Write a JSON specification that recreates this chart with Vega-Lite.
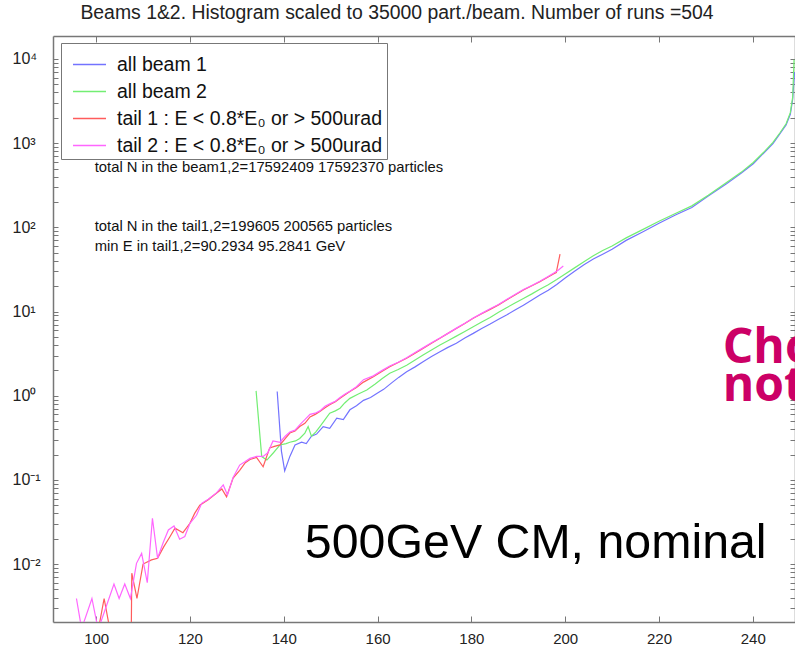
{
  "$schema": "https://vega.github.io/schema/vega-lite/v6.json",
  "width": 742,
  "height": 586,
  "autosize": "none",
  "padding": {"left": 53, "top": 36, "right": 0, "bottom": 31},
  "background": "white",
  "title": {"text": "Beams 1&2. Histogram scaled to 35000 part./beam. Number of runs =504", "font": "Liberation Sans", "fontSize": 19.4, "fontWeight": "normal", "color": "#222", "anchor": "middle", "dx": -27, "offset": 12},
  "config": {"view": {"stroke": null}},
  "datasets": {
    "beams": [
      {"s":"b1","E":138.6,"n":1.12},{"s":"b1","E":139.5,"n":0.22},{"s":"b1","E":140.2,"n":0.128},{"s":"b1","E":141.3,"n":0.19},{"s":"b1","E":142.4,"n":0.26},{"s":"b1","E":143.8,"n":0.28},{"s":"b1","E":144.8,"n":0.27},{"s":"b1","E":145.9,"n":0.33},{"s":"b1","E":147.0,"n":0.35},{"s":"b1","E":148.4,"n":0.43},{"s":"b1","E":149.8,"n":0.41},{"s":"b1","E":151.3,"n":0.54},{"s":"b1","E":152.7,"n":0.52},{"s":"b1","E":154.1,"n":0.68},{"s":"b1","E":155.5,"n":0.76},{"s":"b1","E":157.0,"n":0.88},{"s":"b1","E":158.5,"n":0.95},{"s":"b1","E":160.0,"n":1.08},{"s":"b1","E":161.3,"n":1.19},{"s":"b1","E":163.0,"n":1.42},{"s":"b1","E":164.5,"n":1.65},{"s":"b1","E":166.2,"n":1.93},{"s":"b1","E":168.0,"n":2.2},{"s":"b1","E":169.7,"n":2.53},{"s":"b1","E":171.5,"n":2.92},{"s":"b1","E":173.3,"n":3.33},{"s":"b1","E":175.0,"n":3.75},{"s":"b1","E":176.8,"n":4.2},{"s":"b1","E":178.6,"n":4.85},{"s":"b1","E":180.4,"n":5.5},{"s":"b1","E":182.2,"n":6.3},{"s":"b1","E":184.0,"n":7.1},{"s":"b1","E":185.8,"n":8.1},{"s":"b1","E":187.5,"n":9.1},{"s":"b1","E":189.3,"n":10.4},{"s":"b1","E":191.1,"n":11.9},{"s":"b1","E":192.9,"n":13.7},{"s":"b1","E":194.6,"n":15.7},{"s":"b1","E":196.4,"n":17.9},{"s":"b1","E":198.2,"n":21},{"s":"b1","E":200.0,"n":25},{"s":"b1","E":202.0,"n":30},{"s":"b1","E":204.0,"n":36},{"s":"b1","E":206.0,"n":42},{"s":"b1","E":208.0,"n":48},{"s":"b1","E":210.0,"n":55},{"s":"b1","E":213.0,"n":70},{"s":"b1","E":216.5,"n":88},{"s":"b1","E":220.0,"n":112},{"s":"b1","E":223.5,"n":140},{"s":"b1","E":227.0,"n":172},{"s":"b1","E":230.5,"n":235},{"s":"b1","E":234.4,"n":330},{"s":"b1","E":237.5,"n":440},{"s":"b1","E":240.1,"n":570},{"s":"b1","E":242.5,"n":780},{"s":"b1","E":244.3,"n":990},{"s":"b1","E":245.8,"n":1300},{"s":"b1","E":247.1,"n":1650},{"s":"b1","E":248.0,"n":2200},{"s":"b1","E":248.5,"n":3300},{"s":"b1","E":248.9,"n":7000},
      {"s":"b2","E":134.1,"n":1.14},{"s":"b2","E":135.3,"n":0.189},{"s":"b2","E":136.4,"n":0.172},{"s":"b2","E":137.8,"n":0.21},{"s":"b2","E":139.2,"n":0.26},{"s":"b2","E":140.5,"n":0.27},{"s":"b2","E":141.3,"n":0.28},{"s":"b2","E":142.5,"n":0.29},{"s":"b2","E":143.4,"n":0.31},{"s":"b2","E":144.5,"n":0.36},{"s":"b2","E":145.2,"n":0.43},{"s":"b2","E":145.9,"n":0.33},{"s":"b2","E":146.8,"n":0.37},{"s":"b2","E":147.7,"n":0.43},{"s":"b2","E":148.8,"n":0.52},{"s":"b2","E":149.8,"n":0.62},{"s":"b2","E":151.0,"n":0.66},{"s":"b2","E":152.0,"n":0.71},{"s":"b2","E":153.0,"n":0.82},{"s":"b2","E":154.1,"n":0.93},{"s":"b2","E":155.9,"n":1.05},{"s":"b2","E":157.7,"n":1.17},{"s":"b2","E":159.5,"n":1.38},{"s":"b2","E":161.0,"n":1.6},{"s":"b2","E":162.6,"n":1.85},{"s":"b2","E":164.4,"n":2.05},{"s":"b2","E":166.2,"n":2.3},{"s":"b2","E":168.0,"n":2.65},{"s":"b2","E":169.7,"n":3.04},{"s":"b2","E":171.5,"n":3.5},{"s":"b2","E":173.3,"n":4.0},{"s":"b2","E":175.0,"n":4.5},{"s":"b2","E":176.8,"n":5.1},{"s":"b2","E":178.6,"n":5.8},{"s":"b2","E":180.4,"n":6.6},{"s":"b2","E":182.2,"n":7.5},{"s":"b2","E":184.0,"n":8.5},{"s":"b2","E":185.8,"n":9.8},{"s":"b2","E":187.5,"n":11.1},{"s":"b2","E":189.3,"n":12.6},{"s":"b2","E":191.1,"n":14.3},{"s":"b2","E":192.9,"n":16.2},{"s":"b2","E":194.6,"n":18.4},{"s":"b2","E":196.4,"n":20.8},{"s":"b2","E":198.2,"n":24},{"s":"b2","E":200.0,"n":28},{"s":"b2","E":202.0,"n":33},{"s":"b2","E":204.0,"n":39},{"s":"b2","E":206.0,"n":46},{"s":"b2","E":208.0,"n":53},{"s":"b2","E":210.0,"n":60},{"s":"b2","E":213.0,"n":75},{"s":"b2","E":216.5,"n":94},{"s":"b2","E":220.0,"n":118},{"s":"b2","E":223.5,"n":146},{"s":"b2","E":227.0,"n":180},{"s":"b2","E":230.5,"n":240},{"s":"b2","E":234.4,"n":340},{"s":"b2","E":237.5,"n":450},{"s":"b2","E":240.1,"n":590},{"s":"b2","E":242.5,"n":800},{"s":"b2","E":244.3,"n":1020},{"s":"b2","E":245.8,"n":1330},{"s":"b2","E":247.1,"n":1700},{"s":"b2","E":248.0,"n":2300},{"s":"b2","E":248.5,"n":3500},{"s":"b2","E":248.8,"n":9800},
      {"s":"t1","E":100.5,"n":0.0017},{"s":"t1","E":101.7,"n":0.0039},{"s":"t1","E":102.9,"n":0.0017},{"s":"t1","E":103.5,"n":0.0001},{"s":"t1","E":107.3,"n":0.0001},{"s":"t1","E":107.6,"n":0.0078},{"s":"t1","E":108.7,"n":0.0039},{"s":"t1","E":110.0,"n":0.0100},{"s":"t1","E":111.8,"n":0.0112},{"s":"t1","E":113.1,"n":0.0117},{"s":"t1","E":114.4,"n":0.016},{"s":"t1","E":115.7,"n":0.021},{"s":"t1","E":116.8,"n":0.0267},{"s":"t1","E":118.5,"n":0.0236},{"s":"t1","E":120.0,"n":0.0305},{"s":"t1","E":121.0,"n":0.040},{"s":"t1","E":122.1,"n":0.05},{"s":"t1","E":123.9,"n":0.058},{"s":"t1","E":125.7,"n":0.070},{"s":"t1","E":126.8,"n":0.078},{"s":"t1","E":127.8,"n":0.063},{"s":"t1","E":129.2,"n":0.105},{"s":"t1","E":130.6,"n":0.13},{"s":"t1","E":131.8,"n":0.16},{"s":"t1","E":132.8,"n":0.175},{"s":"t1","E":134.2,"n":0.185},{"s":"t1","E":135.6,"n":0.143},{"s":"t1","E":137.0,"n":0.24},{"s":"t1","E":138.0,"n":0.25},{"s":"t1","E":139.2,"n":0.26},{"s":"t1","E":140.3,"n":0.31},{"s":"t1","E":141.3,"n":0.36},{"s":"t1","E":142.4,"n":0.38},{"s":"t1","E":143.4,"n":0.43},{"s":"t1","E":144.5,"n":0.47},{"s":"t1","E":145.6,"n":0.56},{"s":"t1","E":146.7,"n":0.6},{"s":"t1","E":147.7,"n":0.65},{"s":"t1","E":148.8,"n":0.72},{"s":"t1","E":149.8,"n":0.78},{"s":"t1","E":151.0,"n":0.85},{"s":"t1","E":152.0,"n":0.93},{"s":"t1","E":153.0,"n":1.02},{"s":"t1","E":154.1,"n":1.12},{"s":"t1","E":155.5,"n":1.25},{"s":"t1","E":157.0,"n":1.45},{"s":"t1","E":159.1,"n":1.68},{"s":"t1","E":161.0,"n":1.95},{"s":"t1","E":162.6,"n":2.21},{"s":"t1","E":164.4,"n":2.48},{"s":"t1","E":166.2,"n":2.78},{"s":"t1","E":168.0,"n":3.2},{"s":"t1","E":169.7,"n":3.65},{"s":"t1","E":171.5,"n":4.2},{"s":"t1","E":173.3,"n":4.8},{"s":"t1","E":175.0,"n":5.5},{"s":"t1","E":176.8,"n":6.3},{"s":"t1","E":178.6,"n":7.2},{"s":"t1","E":180.4,"n":8.3},{"s":"t1","E":182.2,"n":9.4},{"s":"t1","E":184.0,"n":10.6},{"s":"t1","E":185.8,"n":12.0},{"s":"t1","E":187.5,"n":13.7},{"s":"t1","E":189.3,"n":15.7},{"s":"t1","E":191.1,"n":18.0},{"s":"t1","E":192.9,"n":20.2},{"s":"t1","E":194.6,"n":22.6},{"s":"t1","E":196.0,"n":25},{"s":"t1","E":197.5,"n":27.9},{"s":"t1","E":198.1,"n":29},{"s":"t1","E":198.9,"n":48},
      {"s":"t2","E":95.8,"n":0.0039},{"s":"t2","E":96.9,"n":0.0017},{"s":"t2","E":99.1,"n":0.0039},{"s":"t2","E":100.4,"n":0.0017},{"s":"t2","E":100.8,"n":0.0019},{"s":"t2","E":103.8,"n":0.0058},{"s":"t2","E":104.9,"n":0.0039},{"s":"t2","E":106.1,"n":0.0058},{"s":"t2","E":107.3,"n":0.0039},{"s":"t2","E":108.6,"n":0.0102},{"s":"t2","E":109.7,"n":0.0134},{"s":"t2","E":110.9,"n":0.0060},{"s":"t2","E":112.0,"n":0.035},{"s":"t2","E":113.1,"n":0.0117},{"s":"t2","E":114.3,"n":0.018},{"s":"t2","E":115.4,"n":0.0254},{"s":"t2","E":116.6,"n":0.0283},{"s":"t2","E":117.8,"n":0.0197},{"s":"t2","E":118.9,"n":0.0212},{"s":"t2","E":120.0,"n":0.0305},{"s":"t2","E":121.4,"n":0.038},{"s":"t2","E":122.5,"n":0.0527},{"s":"t2","E":123.9,"n":0.059},{"s":"t2","E":125.7,"n":0.0705},{"s":"t2","E":127.1,"n":0.087},{"s":"t2","E":128.0,"n":0.066},{"s":"t2","E":129.2,"n":0.107},{"s":"t2","E":130.6,"n":0.15},{"s":"t2","E":131.8,"n":0.165},{"s":"t2","E":132.8,"n":0.18},{"s":"t2","E":134.2,"n":0.19},{"s":"t2","E":135.6,"n":0.19},{"s":"t2","E":136.6,"n":0.21},{"s":"t2","E":137.7,"n":0.29},{"s":"t2","E":139.2,"n":0.28},{"s":"t2","E":140.3,"n":0.33},{"s":"t2","E":141.3,"n":0.37},{"s":"t2","E":142.4,"n":0.39},{"s":"t2","E":143.4,"n":0.45},{"s":"t2","E":144.5,"n":0.52},{"s":"t2","E":145.6,"n":0.6},{"s":"t2","E":146.7,"n":0.62},{"s":"t2","E":147.7,"n":0.66},{"s":"t2","E":148.8,"n":0.75},{"s":"t2","E":149.8,"n":0.8},{"s":"t2","E":151.0,"n":0.86},{"s":"t2","E":152.0,"n":0.95},{"s":"t2","E":153.0,"n":1.04},{"s":"t2","E":154.1,"n":1.13},{"s":"t2","E":155.5,"n":1.28},{"s":"t2","E":157.0,"n":1.55},{"s":"t2","E":159.1,"n":1.72},{"s":"t2","E":161.0,"n":2.0},{"s":"t2","E":162.6,"n":2.25},{"s":"t2","E":164.4,"n":2.5},{"s":"t2","E":166.2,"n":2.82},{"s":"t2","E":168.0,"n":3.25},{"s":"t2","E":169.7,"n":3.7},{"s":"t2","E":171.5,"n":4.25},{"s":"t2","E":173.3,"n":4.85},{"s":"t2","E":175.0,"n":5.5},{"s":"t2","E":176.8,"n":6.35},{"s":"t2","E":178.6,"n":7.25},{"s":"t2","E":180.4,"n":8.4},{"s":"t2","E":182.2,"n":9.5},{"s":"t2","E":184.0,"n":10.8},{"s":"t2","E":185.8,"n":12.1},{"s":"t2","E":187.5,"n":13.9},{"s":"t2","E":189.3,"n":15.9},{"s":"t2","E":191.1,"n":18.3},{"s":"t2","E":192.9,"n":20.4},{"s":"t2","E":194.6,"n":22.9},{"s":"t2","E":196.0,"n":25.4},{"s":"t2","E":197.5,"n":28.5},{"s":"t2","E":198.5,"n":31},{"s":"t2","E":199.6,"n":34.7}
    ],
    "notes": [
      {"t":"total N in the beam1,2=17592409 17592370 particles","E":99.7,"n":506},
      {"t":"total N in the tail1,2=199605 200565 particles","E":99.7,"n":101},
      {"t":"min E in tail1,2=90.2934 95.2841 GeV","E":99.7,"n":58}
    ],
    "big": [
      {"t":"500GeV CM, nominal","E":144.5,"n":0.0118}
    ],
    "side": [
      {"t":"Cho","E":233.6,"n":2.45},
      {"t":"not","E":233.6,"n":0.86}
    ]
  },
  "layer": [
    {
      "layer": [
        {
          "data": {"name": "beams"},
          "mark": {"type": "line", "strokeWidth": 1.2, "clip": true, "interpolate": "linear"},
          "encoding": {
            "x": {"field": "E", "type": "quantitative", "scale": {"domain": [90.8, 249.0], "nice": false, "zero": false},
              "axis": {"orient": "bottom", "values": [100,120,140,160,180,200,220,240], "title": null, "grid": false, "tickSize": -6, "tickColor": "#777", "domainColor": "#777", "domainWidth": 1.5, "labelFont": "Liberation Sans", "labelFontSize": 15, "labelColor": "#222", "labelPadding": 15, "labelFlush": false, "labelOverlap": false}},
            "y": {"field": "n", "type": "quantitative", "scale": {"type": "log", "domain": [0.00205, 18750], "nice": false},
              "axis": {"orient": "left", "title": null, "grid": false, "tickSize": -5, "tickColor": "#777", "domainColor": "#777", "domainWidth": 1.5,
                "values": [0.003,0.004,0.005,0.006,0.007,0.008,0.009,0.01,0.02,0.03,0.04,0.05,0.06,0.07,0.08,0.09,0.1,0.2,0.3,0.4,0.5,0.6,0.7,0.8,0.9,1,2,3,4,5,6,7,8,9,10,20,30,40,50,60,70,80,90,100,200,300,400,500,600,700,800,900,1000,2000,3000,4000,5000,6000,7000,8000,9000,10000],
                "labelExpr": "datum.value == 10000 ? '10⁴' : datum.value == 1000 ? '10³' : datum.value == 100 ? '10²' : datum.value == 10 ? '10¹' : datum.value == 1 ? '10⁰' : datum.value == 0.1 ? '10⁻¹' : datum.value == 0.01 ? '10⁻²' : ''",
                "labelAlign": "left", "labelBaseline": "middle", "labelPadding": 46, "labelFont": "Liberation Sans", "labelFontSize": 16, "labelColor": "#222", "labelOverlap": false, "labelFlush": false}},
            "color": {"field": "s", "type": "nominal",
              "scale": {"domain": ["b1","b2","t1","t2"], "range": ["#7373ff","#73ee73","#ff5c5c","#ff66ff"]},
              "legend": {"title": null, "orient": "none", "legendX": 8, "legendY": 7, "symbolType": "stroke", "symbolSize": 1089, "symbolStrokeWidth": 1.5, "symbolOffset": 7, "labelFont": "Liberation Sans", "labelFontSize": 19.5, "labelColor": "#111", "labelOffset": 10, "labelLimit": 400, "rowPadding": -5, "padding": 4, "strokeColor": "#777", "fillColor": "white",
                "labelExpr": "datum.label == 'b1' ? 'all beam 1' : datum.label == 'b2' ? 'all beam 2' : datum.label == 't1' ? 'tail 1 : E < 0.8*E₀ or > 500urad' : 'tail 2 : E < 0.8*E₀ or > 500urad'"}}
          }
        },
        {
          "data": {"name": "notes"},
          "mark": {"type": "text", "align": "left", "baseline": "middle", "font": "Liberation Sans", "fontSize": 14.8, "color": "#111"},
          "encoding": {
            "x": {"field": "E", "type": "quantitative"},
            "y": {"field": "n", "type": "quantitative"},
            "text": {"field": "t"}
          }
        }
      ]
    },
    {
      "layer": [
        {
          "data": {"name": "big"},
          "mark": {"type": "text", "align": "left", "baseline": "alphabetic", "font": "Liberation Sans", "fontSize": 48.3, "color": "black"},
          "encoding": {
            "x": {"field": "E", "type": "quantitative", "scale": {"domain": [90.8, 249.0], "nice": false, "zero": false},
              "axis": {"orient": "top", "values": [100,120,140,160,180,200,220,240], "labels": false, "title": null, "grid": false, "tickSize": -6, "tickColor": "#777", "domainColor": "#777", "domainWidth": 1.5}},
            "y": {"field": "n", "type": "quantitative", "scale": {"type": "log", "domain": [0.00205, 18750], "nice": false},
              "axis": {"orient": "right", "labels": false, "title": null, "grid": false, "tickSize": -5, "tickColor": "#777", "domainColor": "#777", "domainWidth": 1.5,
                "values": [0.003,0.004,0.005,0.006,0.007,0.008,0.009,0.01,0.02,0.03,0.04,0.05,0.06,0.07,0.08,0.09,0.1,0.2,0.3,0.4,0.5,0.6,0.7,0.8,0.9,1,2,3,4,5,6,7,8,9,10,20,30,40,50,60,70,80,90,100,200,300,400,500,600,700,800,900,1000,2000,3000,4000,5000,6000,7000,8000,9000,10000]}},
            "text": {"field": "t"}
          }
        },
        {
          "data": {"name": "side"},
          "mark": {"type": "text", "align": "left", "baseline": "alphabetic", "font": "Open Sans", "fontWeight": "bold", "fontSize": 48, "color": "#cc0066", "clip": true},
          "encoding": {
            "x": {"field": "E", "type": "quantitative"},
            "y": {"field": "n", "type": "quantitative"},
            "text": {"field": "t"}
          }
        }
      ]
    }
  ],
  "resolve": {"scale": {"x": "independent", "y": "independent"}}
}
